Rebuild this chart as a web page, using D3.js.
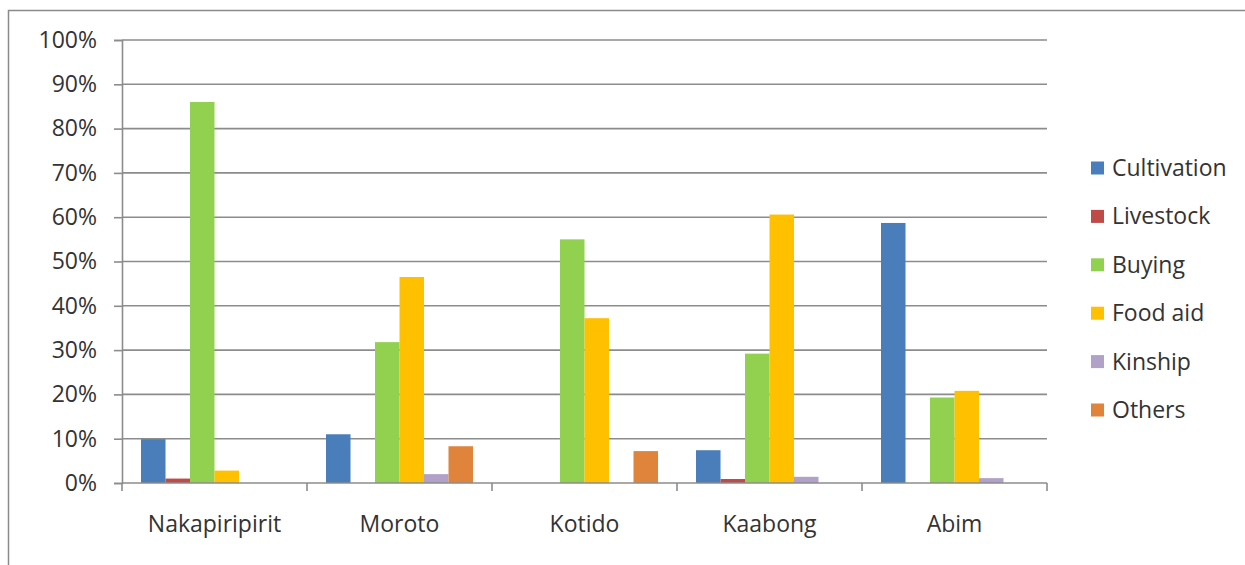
<!DOCTYPE html>
<html>
<head>
<meta charset="utf-8">
<script src="https://cdn.jsdelivr.net/npm/d3@7"></script>
<style>
  html, body { margin: 0; padding: 0; background: #fff; }
  svg { display: block; }
  text { font-family: "Open Sans", Lato, sans-serif; fill: #333; }
</style>
</head>
<body>
<svg id="chart" width="1245" height="565"></svg>
<script>
// Districts along the x axis
const districts = ["Nakapiripirit", "Moroto", "Kotido", "Kaabong", "Abim"];

// Main food source shares (%) per district
const cultivation = [9.9, 11.0, 0, 7.4, 58.7];
const livestock   = [1.0, 0, 0, 0.9, 0];
const buying      = [86.0, 31.8, 55.0, 29.2, 19.3];
const foodAid     = [2.8, 46.5, 37.2, 60.6, 20.8];
const kinship     = [0, 2.0, 0, 1.4, 1.1];
const others      = [0, 8.3, 7.2, 0, 0];

const seriesNames  = ["Cultivation", "Livestock", "Buying", "Food aid", "Kinship", "Others"];
const seriesValues = [cultivation, livestock, buying, foodAid, kinship, others];
const seriesColors = ["#4a7ebb", "#be4b48", "#92d050", "#ffc000", "#b1a0c7", "#e0843c"];

const yTicks = [0, 10, 20, 30, 40, 50, 60, 70, 80, 90, 100];

const svg = d3.select("#chart");
const plot = { left: 122, right: 1047, top: 40, bottom: 483 };
const FONT = 23;

// outer frame
svg.append("rect")
  .attr("x", 8.5).attr("y", 10.5)
  .attr("width", 1260).attr("height", 600)
  .attr("fill", "none").attr("stroke", "#8a8a8a").attr("stroke-width", 1.5);

const x0 = d3.scaleBand().domain(districts).range([plot.left, plot.right]).paddingInner(0).paddingOuter(0);
const x1 = d3.scaleBand().domain(seriesNames).range([0, x0.bandwidth()]).paddingInner(0).paddingOuter(0.776);
const y = d3.scaleLinear().domain([0, 100]).range([plot.bottom, plot.top]);

// horizontal gridlines
svg.append("g").selectAll("line").data(yTicks.filter(t => t > 0)).join("line")
  .attr("x1", plot.left).attr("x2", plot.right)
  .attr("y1", d => y(d)).attr("y2", d => y(d))
  .attr("stroke", "#8c8c8c").attr("stroke-width", 1.6);

// y axis
const yAxis = svg.append("g").attr("transform", `translate(${plot.left},0)`)
  .call(d3.axisLeft(y).tickValues(yTicks).tickFormat(d => d + "%").tickSize(8).tickPadding(17));
yAxis.select(".domain").attr("stroke", "#8c8c8c").attr("stroke-width", 1.6);
yAxis.selectAll(".tick line").attr("stroke", "#8c8c8c").attr("stroke-width", 1.6);
yAxis.selectAll(".tick text").attr("font-size", FONT)
  .attr("font-family", "'Open Sans', sans-serif").attr("fill", "#333");

// bars
const groups = svg.append("g").selectAll("g").data(districts).join("g")
  .attr("transform", d => `translate(${x0(d)},0)`);
groups.selectAll("rect")
  .data((d, i) => seriesNames.map((s, k) => ({ s, v: seriesValues[k][i], c: seriesColors[k] })))
  .join("rect")
  .attr("x", d => x1(d.s))
  .attr("width", x1.bandwidth())
  .attr("y", d => y(d.v))
  .attr("height", d => y(0) - y(d.v))
  .attr("fill", d => d.c);

// x axis with category boundary ticks
const xAxisG = svg.append("g").attr("transform", `translate(0,${plot.bottom})`);
xAxisG.append("line").attr("x1", plot.left).attr("x2", plot.right)
  .attr("stroke", "#8c8c8c").attr("stroke-width", 1.6);
const bounds = districts.map(d => x0(d)).concat([plot.right]);
xAxisG.selectAll("line.tick").data(bounds).join("line").attr("class", "tick")
  .attr("x1", d => d).attr("x2", d => d).attr("y1", 0).attr("y2", 8)
  .attr("stroke", "#8c8c8c").attr("stroke-width", 1.6);
xAxisG.selectAll("text").data(districts).join("text")
  .attr("x", d => x0(d) + x0.bandwidth() / 2)
  .attr("y", 49)
  .attr("text-anchor", "middle")
  .attr("font-size", FONT)
  .text(d => d);

// legend
const legend = svg.append("g").selectAll("g").data(seriesNames).join("g")
  .attr("transform", (d, i) => `translate(1091,${168 + i * 48.4})`);
legend.append("rect").attr("x", 0).attr("y", -6.5).attr("width", 13).attr("height", 13)
  .attr("fill", (d, i) => seriesColors[i]);
legend.append("text").attr("x", 21).attr("y", 0).attr("dy", "0.35em")
  .attr("font-size", FONT).text(d => d);
</script>
</body>
</html>
